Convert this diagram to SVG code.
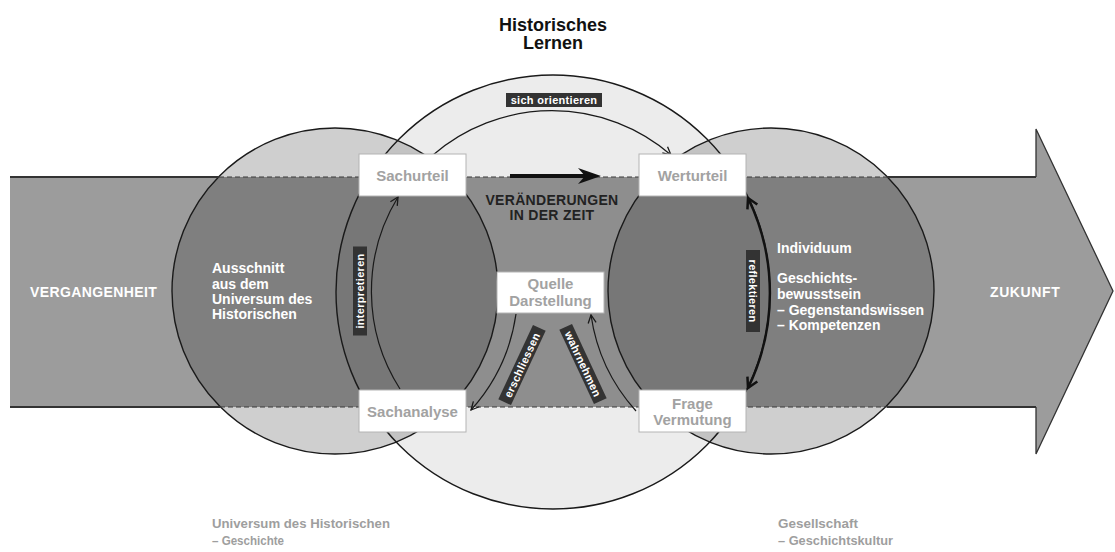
<svg xmlns="http://www.w3.org/2000/svg" width="1115" height="552" viewBox="0 0 1115 552">
<style>
.b{font-family:"Liberation Sans",Arial,sans-serif;font-weight:bold}
.box{fill:#fff;stroke:#b4b4b4;stroke-width:1}
.bt{font-family:"Liberation Sans",Arial,sans-serif;font-weight:bold;font-size:15px;fill:#a2a2a2;text-anchor:middle}
.w{font-family:"Liberation Sans",Arial,sans-serif;font-weight:bold;font-size:14px;fill:#fff}
.lbl{fill:#333}
.lt{font-family:"Liberation Sans",Arial,sans-serif;font-weight:bold;font-size:11px;fill:#fff;text-anchor:middle;letter-spacing:0.3px}
.edge{fill:none;stroke:#1a1a1a;stroke-width:1.4}
.thin{fill:none;stroke:#1a1a1a;stroke-width:1.2}
.dash{stroke:#3a3a3a;stroke-width:1;stroke-dasharray:5 3}
.solid{stroke:#333;stroke-width:2}
.gray{font-family:"Liberation Sans Narrow","Liberation Sans",Arial,sans-serif;font-weight:bold;font-size:13px;fill:#9e9e9e}
</style>
<defs>
<clipPath id="clipBand"><rect x="0" y="177" width="1115" height="230"/></clipPath>
<clipPath id="clipL"><circle cx="335" cy="291" r="163"/></clipPath>
<clipPath id="clipR"><circle cx="771" cy="291" r="163"/></clipPath>
<marker id="openArrow" viewBox="0 0 10 10" refX="9" refY="5" markerWidth="10" markerHeight="10" markerUnits="userSpaceOnUse" orient="auto"><path d="M1,1 L9,5 L1,9" fill="none" stroke="#1a1a1a" stroke-width="1.3"/></marker>
<marker id="thickArrow" viewBox="0 0 14 14" refX="12" refY="7" markerWidth="14" markerHeight="14" markerUnits="userSpaceOnUse" orient="auto-start-reverse"><path d="M2,1.5 L12,7 L2,12.5" fill="none" stroke="#111" stroke-width="2.5"/></marker>
</defs>
<rect width="1115" height="552" fill="#fff"/>
<g id="background">
<path d="M10,177 L1036,177 L1036,129 L1113,291 L1036,454 L1036,407 L10,407 Z" fill="#9c9c9c"/>
<circle cx="335" cy="291" r="163" fill="#cfcfcf"/>
<circle cx="771" cy="291" r="163" fill="#cfcfcf"/>
<circle cx="553" cy="292" r="217" fill="#ececec"/>
<circle cx="553" cy="292" r="217" fill="#c3c3c3" clip-path="url(#clipL)"/>
<circle cx="553" cy="292" r="217" fill="#c3c3c3" clip-path="url(#clipR)"/>
<g clip-path="url(#clipBand)">
<circle cx="335" cy="291" r="163" fill="#7f7f7f"/>
<circle cx="771" cy="291" r="163" fill="#7f7f7f"/>
<circle cx="553" cy="292" r="217" fill="#8e8e8e"/>
<circle cx="553" cy="292" r="217" fill="#777" clip-path="url(#clipL)"/>
<circle cx="553" cy="292" r="217" fill="#777" clip-path="url(#clipR)"/>
</g>
<circle class="edge" cx="335" cy="291" r="163"/>
<circle class="edge" cx="771" cy="291" r="163"/>
<circle class="edge" cx="553" cy="292" r="217"/>
<line class="solid" x1="10" y1="177" x2="219" y2="177"/>
<line class="solid" x1="887" y1="177" x2="1036" y2="177"/>
<line class="solid" x1="10" y1="407" x2="220" y2="407"/>
<line class="solid" x1="887" y1="407" x2="1036" y2="407"/>
<path d="M1036,177 L1036,129 L1113,291 L1036,454 L1036,407" fill="none" stroke="#333" stroke-width="1.3"/>
<line class="dash" x1="219" y1="177" x2="887" y2="177"/>
<line class="dash" x1="220" y1="407" x2="887" y2="407"/>
</g>
<g id="title"><text class="b" x="553" y="31" font-size="18" fill="#111" text-anchor="middle">Historisches</text><text class="b" x="553" y="49" font-size="18" fill="#111" text-anchor="middle">Lernen</text></g>
<g id="vergangenheit"><text class="w" x="30" y="297" letter-spacing="0.4">VERGANGENHEIT</text></g>
<g id="zukunft"><text class="w" x="990" y="297" letter-spacing="0.6">ZUKUNFT</text></g>
<g id="ausschnitt"><text class="w" x="212" y="273">Ausschnitt</text><text class="w" x="212" y="289">aus dem</text><text class="w" x="212" y="304">Universum des</text><text class="w" x="212" y="319">Historischen</text></g>
<g id="individuum"><text class="w" x="777" y="253">Individuum</text><text class="w" x="777" y="283">Geschichts-</text><text class="w" x="777" y="299">bewusstsein</text><text class="w" x="777" y="315">– Gegenstandswissen</text><text class="w" x="777" y="330">– Kompetenzen</text></g>
<g id="veraenderungen"><text class="b" x="552" y="205" font-size="14" fill="#222" text-anchor="middle" letter-spacing="0.3">VERÄNDERUNGEN</text><text class="b" x="552" y="220" font-size="14" fill="#222" text-anchor="middle" letter-spacing="0.3">IN DER ZEIT</text></g>
<g id="connectors">
<line x1="510" y1="176" x2="590" y2="176" stroke="#111" stroke-width="4"/>
<polygon points="578,168 601,176 578,184 585,176" fill="#111"/>
<path class="thin" d="M433,155 A182,182 0 0 1 671,155" marker-end="url(#openArrow)"/>
<path class="thin" d="M400,389 A181,181 0 0 1 398,197" marker-end="url(#openArrow)"/>
<path d="M748,198 A217,217 0 0 1 748,388" fill="none" stroke="#111" stroke-width="2.5" marker-start="url(#thickArrow)" marker-end="url(#thickArrow)"/>
<path class="thin" d="M516,314 A182,182 0 0 1 471,410" marker-end="url(#openArrow)"/>
<path class="thin" d="M636,411 A182,182 0 0 1 591,315" marker-end="url(#openArrow)"/>
<g id="lbl-orientieren"><rect class="lbl" x="506" y="93" width="96" height="14"/><text class="lt" x="554" y="104">sich orientieren</text></g>
<g id="lbl-interpretieren" transform="translate(360,291) rotate(-90)"><rect class="lbl" x="-44.5" y="-7" width="89" height="14"/><text class="lt" x="0" y="4" letter-spacing="0.5">interpretieren</text></g>
<g id="lbl-reflektieren" transform="translate(753,291) rotate(90)"><rect class="lbl" x="-41" y="-7" width="82" height="14"/><text class="lt" x="0" y="4">reflektieren</text></g>
<g id="lbl-erschliessen" transform="translate(522,365) rotate(-65)"><rect class="lbl" x="-41" y="-7" width="82" height="14"/><text class="lt" x="0" y="4">erschliessen</text></g>
<g id="lbl-wahrnehmen" transform="translate(583,364) rotate(65)"><rect class="lbl" x="-41" y="-7" width="82" height="14"/><text class="lt" x="0" y="4">wahrnehmen</text></g>
</g>
<g id="sachurteil"><rect class="box" x="359" y="154" width="107" height="42"/><text class="bt" x="412.5" y="181">Sachurteil</text></g>
<g id="werturteil"><rect class="box" x="639" y="154" width="107" height="42"/><text class="bt" x="692.5" y="181">Werturteil</text></g>
<g id="sachanalyse"><rect class="box" x="359" y="390" width="107" height="42"/><text class="bt" x="412.5" y="417">Sachanalyse</text></g>
<g id="frage"><rect class="box" x="639" y="390" width="107" height="42"/><text class="bt" x="692.5" y="409">Frage</text><text class="bt" x="692.5" y="425">Vermutung</text></g>
<g id="quelle"><rect class="box" x="497" y="272" width="107" height="41"/><text class="bt" x="550.5" y="289">Quelle</text><text class="bt" x="550.5" y="306">Darstellung</text></g>
<g id="universum"><text class="gray" x="212" y="528" textLength="178" lengthAdjust="spacingAndGlyphs">Universum des Historischen</text><text class="gray" x="212" y="545" textLength="72" lengthAdjust="spacingAndGlyphs">– Geschichte</text></g>
<g id="gesellschaft"><text class="gray" x="778" y="528" textLength="80" lengthAdjust="spacingAndGlyphs">Gesellschaft</text><text class="gray" x="778" y="545" textLength="115" lengthAdjust="spacingAndGlyphs">– Geschichtskultur</text></g>
</svg>
